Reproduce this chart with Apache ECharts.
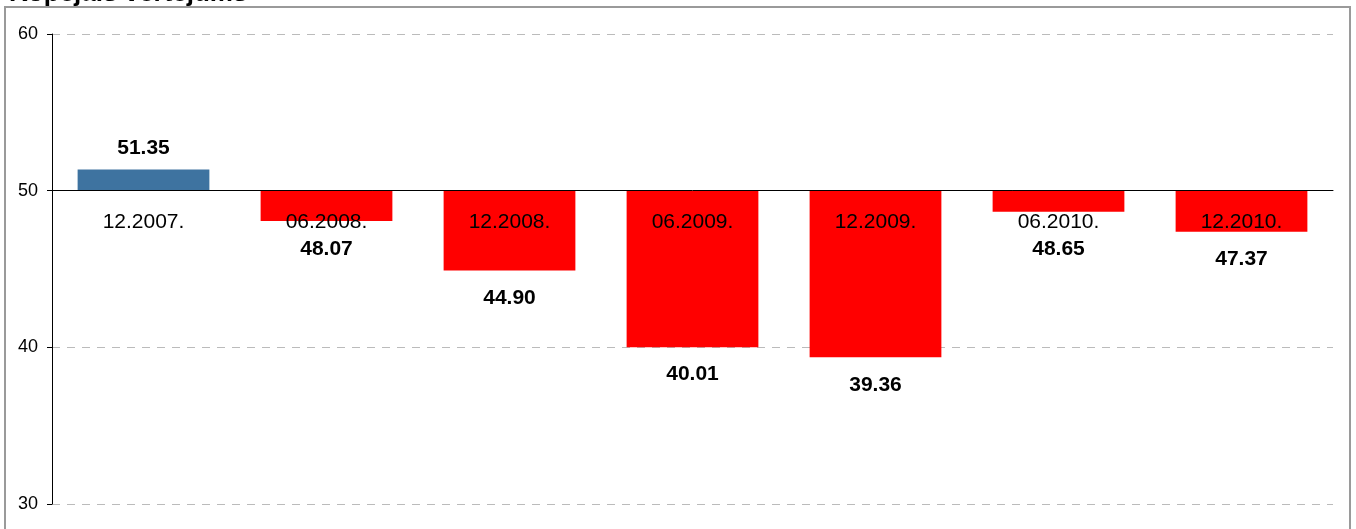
<!DOCTYPE html>
<html>
<head>
<meta charset="utf-8">
<script src="https://cdn.jsdelivr.net/npm/echarts@6/dist/echarts.min.js"></script>
<style>
  html, body { margin: 0; padding: 0; background: #fff; }
  #chart { width: 1356px; height: 529px; }
</style>
</head>
<body>
<div id="chart"></div>
<script>
const periods = ['12.2007.', '06.2008.', '12.2008.', '06.2009.', '12.2009.', '06.2010.', '12.2010.']
const scores = [51.35, 48.07, 44.90, 40.01, 39.36, 48.65, 47.37]
const baseline = 50
const yTicks = [30, 40, 50, 60]

const font = '"Liberation Sans", Arial, sans-serif'
const gridTop = 34
const gridBottom = 25
const chartH = 529

const chart = echarts.init(document.getElementById('chart'))

// pixels per unit, used to keep value labels clear of the period labels
const pxPerUnit = (chartH - gridTop - gridBottom) / (yTicks[yTicks.length - 1] - yTicks[0])
const minLabelDrop = 48

// bars are drawn relative to the baseline, axis labels add it back
const barData = scores.map(v => {
  const up = v >= baseline
  const depth = (baseline - v) * pxPerUnit
  return {
    value: +(v - baseline).toFixed(2),
    itemStyle: { color: up ? '#3e73a0' : '#ff0000' },
    label: {
      position: up ? 'top' : 'bottom',
      distance: up ? 11 : Math.max(17, minLabelDrop - depth)
    }
  }
})

const option = {
  animation: false,
  title: {
    text: 'Kopējais vērtējums',
    left: 9,
    top: -19,
    padding: 0,
    textStyle: { fontFamily: font, fontSize: 26, fontWeight: 'bold', color: '#000' }
  },
  graphic: [{
    type: 'rect',
    shape: { x: 5, y: 7, width: 1345, height: 600 },
    style: { fill: 'none', stroke: '#9a9a9a', lineWidth: 2 },
    z: -1
  }],
  grid: { left: 52, right: 23, top: gridTop, bottom: gridBottom, containLabel: false, outerBoundsMode: 'none' },
  xAxis: {
    type: 'category',
    data: periods,
    z: 10,
    axisLine: { onZero: true, lineStyle: { color: '#000', width: 1 } },
    axisTick: { show: false },
    axisLabel: { show: false }
  },
  yAxis: {
    type: 'value',
    min: yTicks[0] - baseline,
    max: yTicks[yTicks.length - 1] - baseline,
    interval: 10,
    axisLine: { show: true, onZero: false, lineStyle: { color: '#000' } },
    axisTick: { show: true, length: 5, lineStyle: { color: '#000' } },
    axisLabel: {
      color: '#000', fontFamily: font, fontSize: 18, margin: 14,
      formatter: v => String(v + baseline)
    },
    splitLine: { show: true, lineStyle: { color: '#bbbbbb', type: [8, 7], width: 1 } }
  },
  series: [
    {
      type: 'bar',
      data: barData,
      barWidth: '72%',
      label: {
        show: true,
        color: '#000',
        fontFamily: font,
        fontSize: 21,
        fontWeight: 'bold',
        formatter: p => (p.value + baseline).toFixed(2)
      }
    },
    {
      // period names sit just under the baseline, over the bars
      type: 'scatter',
      data: periods.map(() => 0),
      symbolSize: 0,
      z: 10,
      silent: true,
      itemStyle: { opacity: 1 },
      label: {
        show: true,
        position: 'bottom',
        distance: 21,
        color: '#000',
        opacity: 1,
        fontFamily: font,
        fontSize: 21,
        formatter: p => periods[p.dataIndex]
      }
    }
  ]
}

chart.setOption(option)
</script>
</body>
</html>
